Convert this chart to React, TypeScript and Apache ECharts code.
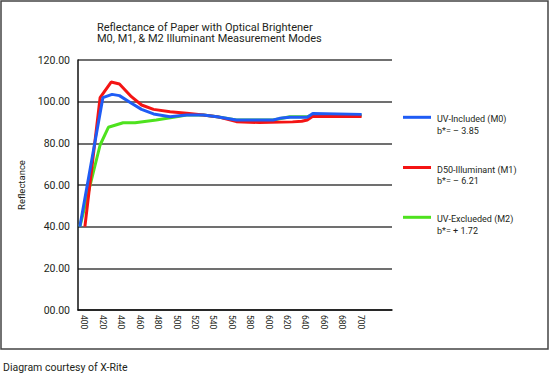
import React, { useEffect, useRef } from "react";
import * as echarts from "echarts";

const titleLines = ["Reflectance of Paper with Optical Brightener", "M0, M1, & M2 Illuminant Measurement Modes"];
const xTickLabels = [400, 420, 440, 460, 480, 500, 520, 540, 560, 580, 600, 620, 640, 660, 680, 700];
const yTicks = [0, 20, 40, 60, 80, 100, 120];

const seriesNames = ["UV-Included (M0)", "D50-Illuminant (M1)", "UV-Exclueded (M2)"];
const seriesBStar = ["b*= – 3.85", "b*= – 6.21", "b*= + 1.72"];
const seriesColors = ["#1f5cf5", "#f41414", "#4ee21e"];

const m0Wavelengths = [395, 420, 430, 438, 451, 462, 475, 493, 511, 529, 544, 565, 605, 612, 623, 642, 648, 701];
const m0Values = [40, 101.9, 103.5, 102.9, 99.2, 96.3, 94.1, 92.8, 93.6, 93.6, 92.8, 91.2, 91.2, 92.0, 92.5, 92.5, 94.3, 93.9];

const m1Wavelengths = [400.5, 417, 429, 438, 451, 462, 475, 493, 511, 529, 544, 565, 590, 626, 636, 642, 648, 701];
const m1Values = [40, 101.9, 109.4, 108.5, 102.4, 98.4, 96.3, 95.2, 94.4, 93.6, 92.8, 90.4, 90.0, 90.3, 90.6, 91.2, 93.0, 92.9];

const m2Wavelengths = [395, 417, 426, 442, 455, 478, 500, 511, 529, 544, 565, 605, 623, 642, 648, 701];
const m2Values = [40, 79.2, 87.7, 89.9, 89.9, 91.2, 92.8, 93.6, 93.6, 92.8, 91.2, 91.2, 92.8, 92.8, 93.6, 93.5];

const FONT = "Roboto, 'Noto Sans', sans-serif";
const TEXT = "#231f20";

function pairs(xs: number[], ys: number[]) {
  return xs.map((x, i) => [x, ys[i]]);
}

export default function App() {
  const ref = useRef<HTMLDivElement>(null);
  useEffect(() => {
    if (!ref.current) return;
    const chart = echarts.init(ref.current, undefined, { renderer: "svg" });
    const data = [pairs(m0Wavelengths, m0Values), pairs(m1Wavelengths, m1Values), pairs(m2Wavelengths, m2Values)];
    const legendY = [117.3, 167.5, 217.3];
    const legendGraphics: any[] = [];
    seriesNames.forEach((name, i) => {
      legendGraphics.push({
        type: "line",
        shape: { x1: 403, y1: legendY[i], x2: 431, y2: legendY[i] },
        style: { stroke: seriesColors[i], lineWidth: 3 },
      });
      legendGraphics.push({
        type: "text",
        x: 437,
        y: legendY[i] + 2,
        style: { text: name, font: `9px ${FONT}`, fill: TEXT, verticalAlign: "middle" },
      });
      legendGraphics.push({
        type: "text",
        x: 437,
        y: legendY[i] + 13.7,
        style: { text: seriesBStar[i], font: `9px ${FONT}`, fill: TEXT, verticalAlign: "middle" },
      });
    });
    chart.setOption({
      animation: false,
      backgroundColor: "#ffffff",
      grid: { left: 78, top: 60, width: 314, height: 250, containLabel: false },
      xAxis: {
        type: "value",
        min: 393,
        max: 734,
        axisLine: { show: true, lineStyle: { color: "#111", width: 1.5 } },
        axisTick: { show: false },
        splitLine: { show: false },
        axisLabel: {
          customValues: xTickLabels,
          rotate: -90,
          margin: 5,
          color: TEXT,
          fontFamily: FONT,
          fontSize: 8.5,
          formatter: (v: number) => String(v),
        },
      },
      yAxis: {
        type: "value",
        min: yTicks[0],
        max: yTicks[yTicks.length - 1],
        interval: 20,
        name: "Reflectance",
        nameLocation: "middle",
        nameGap: 50,
        nameTextStyle: { color: TEXT, fontFamily: FONT, fontSize: 9.5 },
        axisLine: { show: true, lineStyle: { color: "#111", width: 1.5 } },
        axisTick: { show: false },
        splitLine: { show: true, lineStyle: { color: "#404040", width: 1.5 } },
        axisLabel: {
          margin: 8,
          color: TEXT,
          fontFamily: FONT,
          fontSize: 10.5,
          formatter: (v: number) => (v === 0 ? "00.00" : v.toFixed(2)),
        },
      },
      series: seriesNames.map((name, i) => ({
        name,
        type: "line",
        data: data[i],
        showSymbol: false,
        symbol: "none",
        lineStyle: { color: seriesColors[i], width: 3 },
        itemStyle: { color: seriesColors[i] },
        z: [5, 4, 3][i],
      })),
      graphic: [
        {
          type: "rect",
          shape: { x: 1, y: 1, width: 547, height: 348 },
          style: { fill: "none", stroke: "#444", lineWidth: 1.5 },
          silent: true,
        },
        {
          type: "text",
          x: 97,
          y: 27,
          style: { text: titleLines[0], font: `11px ${FONT}`, fill: TEXT, verticalAlign: "middle" },
        },
        {
          type: "text",
          x: 97,
          y: 38.5,
          style: { text: titleLines[1], font: `11px ${FONT}`, fill: TEXT, verticalAlign: "middle" },
        },
        {
          type: "text",
          x: 3,
          y: 367,
          style: { text: "Diagram courtesy of X-Rite", font: `10.5px ${FONT}`, fill: TEXT, verticalAlign: "middle" },
        },
        ...legendGraphics,
      ],
    });
    return () => chart.dispose();
  }, []);
  return <div ref={ref} style={{ position: "fixed", left: 0, top: 0, width: 550, height: 382 }} />;
}
